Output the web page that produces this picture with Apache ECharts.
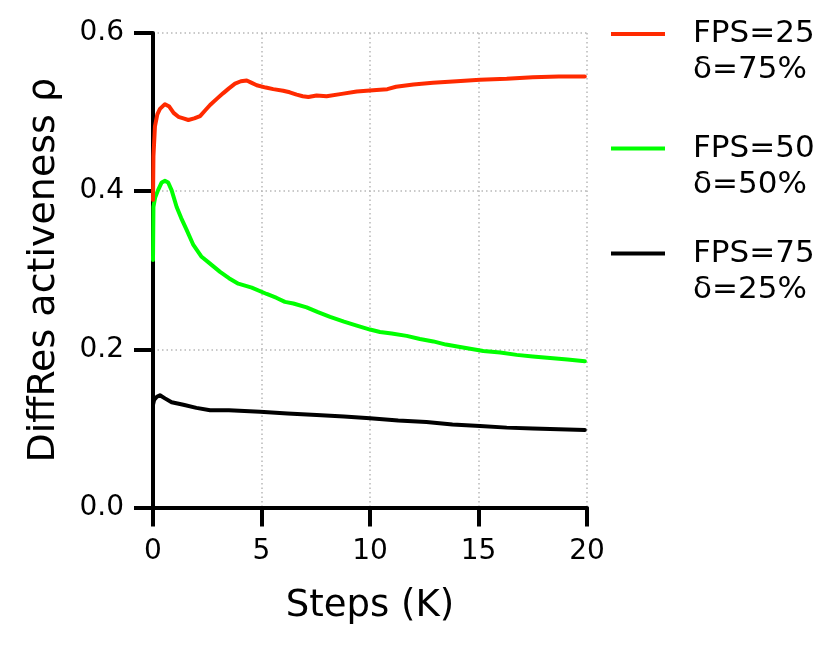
<!DOCTYPE html>
<html>
<head>
<meta charset="utf-8">
<script src="https://cdn.jsdelivr.net/npm/echarts@6/dist/echarts.min.js"></script>
<style>html,body{margin:0;padding:0;background:#fff}#c{width:830px;height:645px}</style>
</head>
<body>
<div id="c"></div>
<script>
const xTicks = [0, 5, 10, 15, 20];
const yTicks = [0.0, 0.2, 0.4, 0.6];
const seriesNames = ['FPS=25 δ=75%', 'FPS=50 δ=50%', 'FPS=75 δ=25%'];
const legendLines = [['FPS=25', 'δ=75%'], ['FPS=50', 'δ=50%'], ['FPS=75', 'δ=25%']];
const seriesColors = ['#ff2a00', '#00ff00', '#000000'];

const red = [[0,0.389],[0.02,0.444],[0.09,0.482],[0.2,0.497],[0.32,0.504],[0.55,0.510],[0.75,0.507],[0.95,0.499],[1.17,0.494],[1.4,0.492],[1.63,0.490],[1.9,0.492],[2.17,0.495],[2.4,0.502],[2.63,0.509],[2.95,0.517],[3.24,0.524],[3.5,0.530],[3.78,0.536],[4.05,0.539],[4.32,0.540],[4.55,0.537],[4.78,0.534],[5.2,0.531],[5.54,0.529],[6.0,0.527],[6.3,0.525],[6.62,0.522],[6.9,0.520],[7.16,0.519],[7.54,0.521],[8.0,0.520],[8.7,0.523],[9.39,0.526],[10.3,0.528],[10.8,0.529],[11.2,0.532],[12.0,0.535],[12.9,0.537],[14.0,0.539],[15.07,0.541],[16.3,0.542],[17.5,0.544],[18.7,0.545],[19.9,0.545]];
const green = [[0,0.313],[0.02,0.380],[0.1,0.392],[0.23,0.401],[0.4,0.411],[0.55,0.413],[0.7,0.411],[0.86,0.401],[1.09,0.380],[1.3,0.366],[1.55,0.351],[1.86,0.332],[2.24,0.317],[2.6,0.309],[3.09,0.298],[3.5,0.290],[3.93,0.283],[4.55,0.278],[5.24,0.270],[5.7,0.265],[6.08,0.260],[6.47,0.258],[7.08,0.253],[7.6,0.247],[8.16,0.241],[8.8,0.235],[9.39,0.230],[10.0,0.225],[10.46,0.222],[11.0,0.220],[11.69,0.217],[12.3,0.213],[12.92,0.210],[13.5,0.206],[14.15,0.203],[15.22,0.198],[16.0,0.196],[16.76,0.193],[17.5,0.191],[18.3,0.189],[19.1,0.187],[19.9,0.185]];
const black = [[0,0.130],[0.05,0.136],[0.18,0.140],[0.32,0.142],[0.55,0.138],[0.86,0.133],[1.4,0.130],[2.0,0.126],[2.63,0.123],[3.5,0.123],[4.93,0.121],[6.2,0.119],[7.54,0.117],[8.8,0.115],[10.0,0.113],[11.3,0.110],[12.6,0.108],[13.8,0.105],[15.07,0.103],[16.3,0.101],[17.5,0.100],[18.7,0.099],[19.9,0.098]];
const allData = [red, green, black];

const FONT = 'DejaVu Sans';
const chart = echarts.init(document.getElementById('c'), null, {renderer: 'canvas'});

const legendTops = [-20, 94.5, 199.5];
const legends = seriesNames.map((n, i) => ({
  data: [n],
  left: 611,
  top: legendTops[i],
  orient: 'vertical',
  padding: 0,
  icon: 'rect',
  itemWidth: 54,
  itemHeight: 4,
  selectedMode: false,
  formatter: () => ' \n' + legendLines[i].join('\n'),
  textStyle: {fontFamily: FONT, fontSize: 31, color: '#000', lineHeight: 36, padding: [0, 0, 0, 23]}
}));

chart.setOption({
  animation: false,
  backgroundColor: '#fff',
  grid: {left: 153, top: 33, width: 434, height: 474.5, containLabel: false},
  legend: legends,
  xAxis: {
    type: 'value', min: 0, max: 20, interval: 5,
    name: 'Steps (K)', nameLocation: 'middle', nameGap: 80,
    nameTextStyle: {fontFamily: FONT, fontSize: 37, color: '#000'},
    axisLine: {show: true, lineStyle: {color: '#000', width: 4}},
    axisTick: {show: true, inside: false, length: 19, lineStyle: {color: '#000', width: 4}},
    axisLabel: {fontFamily: FONT, fontSize: 28, color: '#000', margin: 30,
      formatter: v => xTicks.includes(v) ? String(v) : ''},
    splitLine: {show: true, lineStyle: {color: '#b8b8b8', width: 1.5, type: [1.5, 3]}}
  },
  yAxis: {
    type: 'value', min: 0, max: 0.6, interval: 0.2,
    name: 'DiffRes activeness ρ', nameLocation: 'middle', nameGap: 90,
    nameTextStyle: {fontFamily: FONT, fontSize: 38, color: '#000'},
    axisLine: {show: true, lineStyle: {color: '#000', width: 4}},
    axisTick: {show: true, inside: false, length: 19, lineStyle: {color: '#000', width: 4}},
    axisLabel: {fontFamily: FONT, fontSize: 28, color: '#000', margin: 29,
      formatter: v => { const t = yTicks.find(k => Math.abs(k - v) < 1e-9); return t === undefined ? '' : t.toFixed(1); }},
    splitLine: {show: true, lineStyle: {color: '#b8b8b8', width: 1.5, type: [1.5, 3]}}
  },
  series: allData.map((d, i) => ({
    name: seriesNames[i],
    type: 'line',
    data: d,
    showSymbol: false,
    symbol: 'none',
    smooth: false,
    color: seriesColors[i],
    lineStyle: {color: seriesColors[i], width: 4, cap: 'round', join: 'round'},
    z: 3 - i
  }))
});
</script>
</body>
</html>
